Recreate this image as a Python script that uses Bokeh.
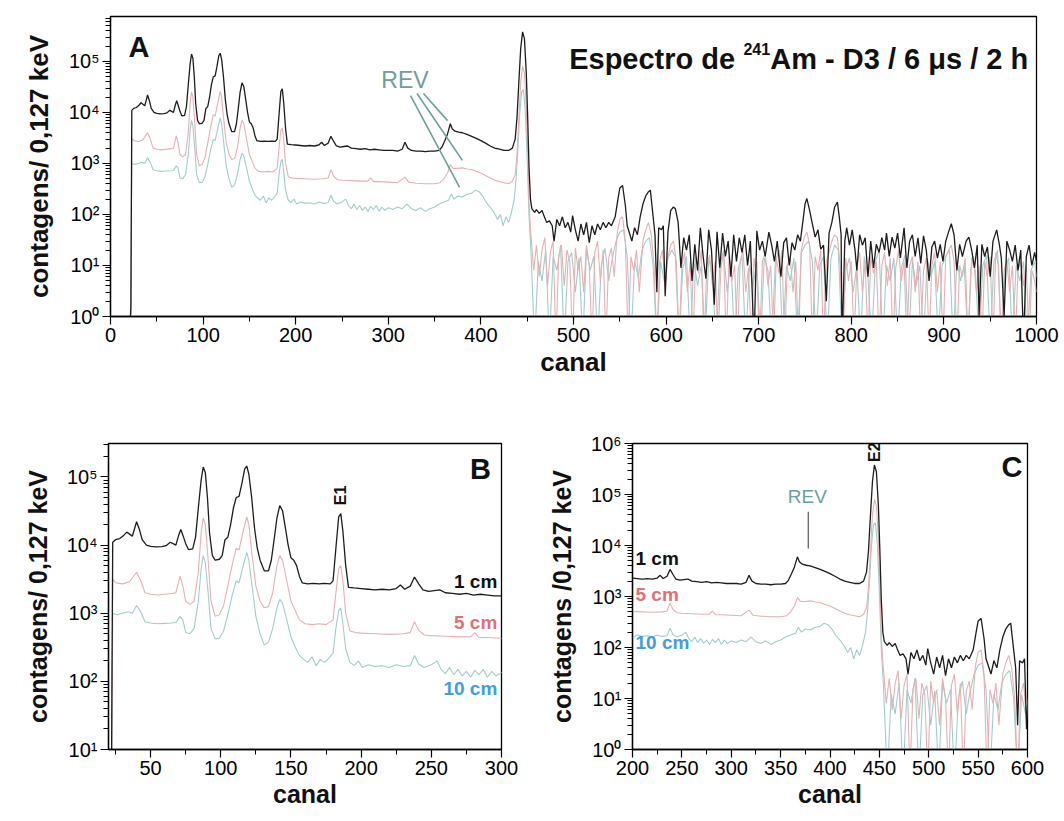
import math
from bokeh.plotting import figure
from bokeh.layouts import column, row
from bokeh.models import Range1d, FixedTicker, CustomJSTickFormatter, Label
from bokeh.embed import file_html
from bokeh.resources import INLINE

FONT = "Liberation Sans"

# ---------------- data: (canal, contagens) ----------------
# values of 0.3 stand for empty channels (drawn below the axis)
SPEC_1CM = [
    (20, 0.3), (22, 1.5), (23, 11000), (25, 12000), (28, 12500), (31, 14000), (33, 15500), (35, 14500),
    (37, 13500), (40, 22000), (42, 17000), (44, 12000), (47, 10000), (50, 9600), (54, 9400), (58, 9500),
    (61, 9800), (64, 11000), (66, 10500), (68, 10000), (70, 14000), (71.5, 17000), (73, 14000), (75, 10500),
    (77, 8600), (80, 8800), (82, 13000), (84, 35000), (86, 90000), (87.5, 140000), (89, 115000), (90.5, 50000),
    (92, 15000), (94, 7000), (96, 6000), (99, 6200), (101, 7000), (103, 12000), (105, 13000), (107, 20000),
    (109, 35000), (111, 50000), (113, 52000), (115, 80000), (117, 130000), (118.5, 145000), (120, 110000),
    (122, 50000), (124, 18000), (126, 9000), (128, 6000), (131, 4200), (134, 4200), (136, 6000), (138, 12000),
    (140, 25000), (142, 38000), (144, 32000), (146, 18000), (148, 10000), (150, 6500), (152, 6000), (154, 5000),
    (156, 3500), (158, 2800), (162, 2700), (166, 2750), (170, 2700), (174, 2750), (178, 2700), (180, 3000),
    (182, 9000), (184, 26000), (185.5, 29000), (187, 16000), (189, 5000), (191, 2400), (195, 2350), (200, 2300),
    (205, 2250), (210, 2200), (215, 2250), (220, 2200), (225, 2300), (228, 2600), (231, 2250), (235, 2500),
    (238, 3400), (241, 2700), (244, 2200), (248, 2100), (252, 2150), (256, 2200), (260, 2000), (265, 1950),
    (270, 1900), (275, 1950), (280, 1850), (285, 1900), (290, 1850), (295, 1800), (300, 1800), (305, 1800),
    (310, 1750), (315, 1900), (318, 2600), (321, 2000), (325, 1800), (330, 1750), (335, 1750), (340, 1700),
    (345, 1750), (350, 1750), (355, 1800), (358, 2100), (361, 2800), (364, 3800), (367, 6000), (369, 4800),
    (372, 4300), (376, 4100), (380, 4000), (385, 3700), (390, 3400), (395, 3100), (400, 2800), (405, 2500),
    (410, 2200), (415, 2000), (420, 1900), (425, 1800), (430, 1800), (434, 2000), (437, 3000), (439, 8000),
    (441, 40000), (443, 180000), (445, 380000), (447, 280000), (449, 60000), (450.5, 8000), (452, 800),
    (453.5, 200), (455, 130), (458, 110), (460, 125), (463, 105), (466, 120), (468, 95), (471, 70), (474, 75),
    (477, 60), (479, 30), (482, 80), (485, 60), (488, 90), (491, 55), (494, 70), (497, 45), (499, 95), (502, 50),
    (505, 30), (508, 65), (511, 40), (514, 70), (517, 28), (520, 60), (523, 40), (526, 65), (529, 50), (532, 70),
    (535, 55), (538, 70), (541, 60), (545, 90), (548, 200), (550, 330), (553, 370), (556, 150), (558, 60),
    (561, 40), (563, 30), (566, 55), (569, 40), (572, 90), (575, 160), (578, 230), (581, 280), (583, 300),
    (586, 90), (588, 40), (590, 3), (592, 55), (595, 50), (597, 60), (599, 2.5), (602, 45), (605, 120),
    (608, 140), (610, 130), (613, 70), (616, 9), (619, 35), (622, 20), (625, 40), (628, 5), (631, 26), (634, 8),
    (637, 55), (640, 15), (643, 5.5), (646, 50), (649, 20), (652, 1.7), (655, 46), (658, 9), (661, 43), (664, 15),
    (667, 30), (670, 6), (673, 40), (676, 12), (679, 35), (682, 18), (685, 40), (688, 10), (691, 30), (695, 0.3),
    (698, 48), (701, 20), (704, 30), (707, 15), (711, 45), (714, 25), (717, 12), (720, 30), (724, 6), (727, 28),
    (730, 35), (733, 10), (736, 28), (739, 20), (742, 40), (745, 30), (748, 80), (750, 160), (752, 205),
    (755, 120), (758, 65), (761, 36), (764, 50), (767, 21), (770, 25), (773, 2), (776, 43), (779, 70), (782, 140),
    (785, 175), (787, 90), (789, 40), (790, 0.3), (793, 30), (795, 55), (798, 25), (801, 50), (804, 20), (806, 8),
    (809, 40), (812, 25), (815, 35), (818, 6), (821, 30), (824, 9), (827, 26), (830, 18), (833, 35), (836, 20),
    (838, 43), (841, 15), (844, 36), (847, 22), (850, 43), (853, 14), (857, 55), (860, 9), (863, 30), (866, 40),
    (869, 15), (872, 35), (875, 11), (878, 38), (881, 20), (884, 5), (887, 23), (890, 30), (893, 14), (896, 26),
    (899, 12), (902, 30), (905, 45), (908, 66), (911, 40), (914, 8), (917, 26), (920, 15), (924, 30), (927, 36),
    (930, 20), (933, 9), (936, 25), (938, 1), (941, 26), (944, 15), (947, 23), (950, 6), (953, 30), (957, 50),
    (960, 25), (962, 14), (965, 1), (968, 30), (971, 20), (974, 12), (977, 25), (980, 8), (983, 20), (986, 0.3),
    (989, 15), (992, 25), (995, 10), (998, 18), (1000, 12),
]

SPEC_5CM = [
    (20, 0.3), (22, 1.0), (23, 3200), (25, 2800), (30, 2700), (35, 2900), (40, 4000), (43, 3000), (46, 2000),
    (50, 1900), (55, 1850), (60, 1900), (65, 1950), (68, 2000), (71, 3500), (73, 2500), (75, 1500), (78, 1350),
    (81, 1500), (84, 4000), (86, 15000), (87.5, 25000), (89, 20000), (91, 6000), (93, 1500), (96, 900), (99, 950),
    (102, 1300), (105, 2500), (108, 5000), (111, 9000), (113, 8500), (116, 16000), (118.5, 26000), (120, 20000),
    (122, 8000), (125, 2500), (128, 1500), (131, 1200), (134, 1250), (137, 2000), (140, 5000), (142, 7000),
    (144, 6000), (147, 3000), (150, 1500), (153, 1100), (156, 800), (160, 700), (165, 680), (170, 700), (175, 680),
    (180, 800), (182, 2000), (184, 4500), (185.5, 5000), (187, 3000), (189, 1000), (192, 550), (196, 520),
    (200, 510), (210, 500), (220, 490), (230, 500), (235, 520), (238, 750), (241, 560), (245, 480), (250, 470),
    (260, 460), (270, 450), (278, 450), (281, 520), (284, 440), (290, 440), (300, 430), (310, 420), (318, 540),
    (322, 430), (330, 410), (340, 400), (350, 400), (356, 420), (360, 500), (364, 650), (367, 950), (370, 800),
    (375, 800), (380, 820), (385, 780), (390, 760), (395, 700), (400, 650), (405, 580), (410, 520), (415, 470),
    (420, 440), (425, 420), (430, 400), (434, 450), (437, 600), (439, 1500), (441, 8000), (443, 40000),
    (445, 80000), (447, 60000), (449, 13000), (450.5, 1500), (452, 150), (454, 40), (457, 8), (460, 25),
    (463, 6), (466, 20), (469, 35), (472, 4), (475, 18), (478, 30), (481, 0.3), (484, 15), (487, 25), (490, 4),
    (493, 20), (496, 12), (499, 0.3), (502, 22), (505, 8), (508, 15), (511, 3), (514, 25), (517, 10), (520, 0.3),
    (523, 18), (526, 30), (529, 5), (532, 20), (535, 0.3), (538, 14), (541, 22), (544, 6), (547, 40), (550, 80),
    (553, 90), (556, 30), (559, 0.3), (562, 15), (565, 8), (568, 20), (571, 3), (575, 30), (578, 50), (581, 70),
    (584, 40), (587, 10), (590, 0.3), (593, 12), (596, 20), (599, 4), (602, 15), (605, 25), (608, 30), (611, 12),
    (614, 0.3), (617, 10), (620, 18), (623, 3), (626, 12), (629, 0.3), (632, 15), (635, 7), (638, 20), (641, 0.3),
    (644, 10), (647, 16), (650, 4), (653, 12), (656, 0.3), (659, 8), (662, 20), (665, 0.3), (668, 15), (671, 5),
    (674, 10), (677, 0.3), (680, 12), (683, 20), (686, 3), (689, 9), (692, 0.3), (695, 14), (698, 6), (701, 0.3),
    (704, 12), (707, 18), (710, 4), (713, 10), (716, 0.3), (719, 14), (722, 7), (725, 20), (728, 0.3), (731, 10),
    (734, 15), (737, 3), (740, 12), (743, 0.3), (746, 20), (749, 35), (752, 45), (755, 25), (758, 0.3), (761, 15),
    (764, 8), (767, 20), (770, 0.3), (773, 12), (776, 18), (779, 30), (782, 40), (785, 35), (788, 10), (791, 0.3),
    (794, 14), (797, 5), (800, 12), (803, 0.3), (806, 10), (809, 18), (812, 3), (815, 12), (818, 0.3), (821, 15),
    (824, 7), (827, 12), (830, 0.3), (833, 10), (836, 18), (839, 4), (842, 14), (845, 0.3), (848, 9), (851, 20),
    (854, 5), (857, 12), (860, 0.3), (863, 10), (866, 15), (869, 3), (872, 12), (875, 0.3), (878, 8), (881, 14),
    (884, 0.3), (887, 10), (890, 18), (893, 3), (896, 12), (899, 0.3), (902, 15), (905, 20), (908, 25), (911, 12),
    (914, 0.3), (917, 10), (920, 6), (923, 14), (926, 0.3), (929, 8), (932, 15), (935, 3), (938, 10), (941, 0.3),
    (944, 12), (947, 6), (950, 15), (953, 0.3), (956, 18), (959, 10), (962, 0.3), (965, 8), (968, 12), (971, 3),
    (974, 10), (977, 0.3), (980, 8), (983, 12), (986, 4), (989, 10), (992, 0.3), (995, 8), (998, 5), (1000, 3),
]

SPEC_10CM = [
    (20, 0.3), (22, 0.8), (23, 1000), (26, 950), (30, 1000), (34, 1050), (37, 1000), (40, 1300), (43, 1050),
    (46, 750), (50, 720), (55, 700), (60, 710), (65, 720), (68, 730), (71, 900), (73, 800), (75, 520), (78, 500),
    (81, 600), (84, 1500), (86, 4500), (87.5, 7000), (89, 5500), (91, 2000), (93, 600), (96, 420), (99, 430),
    (102, 550), (105, 950), (108, 1800), (111, 3000), (113, 2800), (116, 5000), (118.5, 7800), (120, 6000),
    (122, 2800), (125, 900), (128, 500), (131, 340), (134, 380), (137, 600), (140, 1200), (142, 1600), (144, 1400),
    (147, 800), (150, 450), (153, 320), (156, 240), (159, 210), (162, 190), (165, 230), (168, 170), (171, 210),
    (174, 190), (177, 220), (180, 260), (182, 600), (184, 1100), (185.5, 1200), (187, 700), (189, 300), (192, 190),
    (195, 170), (198, 200), (201, 160), (205, 175), (210, 165), (215, 170), (220, 160), (225, 175), (230, 165),
    (235, 170), (238, 240), (241, 180), (245, 160), (250, 175), (254, 200), (257, 150), (260, 130), (263, 160),
    (266, 125), (269, 150), (272, 120), (275, 140), (278, 115), (281, 145), (284, 125), (287, 150), (290, 115),
    (293, 140), (296, 120), (300, 135), (305, 125), (310, 140), (315, 130), (320, 160), (325, 130), (330, 120),
    (335, 135), (340, 115), (345, 130), (350, 140), (355, 160), (360, 175), (365, 190), (368, 250), (371, 200),
    (375, 230), (380, 220), (385, 250), (390, 260), (394, 300), (398, 280), (402, 230), (406, 170), (410, 140),
    (414, 110), (418, 80), (421, 100), (424, 60), (427, 90), (430, 70), (433, 110), (436, 200), (438, 500),
    (440, 2000), (442, 10000), (444, 25000), (446, 28000), (448, 10000), (450, 1200), (452, 90), (454, 20),
    (458, 0.3), (462, 12), (466, 5), (470, 20), (474, 0.3), (478, 15), (482, 8), (486, 25), (490, 0.3), (494, 12),
    (498, 18), (502, 3), (506, 14), (510, 0.3), (514, 20), (518, 8), (522, 15), (526, 0.3), (530, 10), (534, 22),
    (538, 5), (542, 14), (546, 30), (550, 45), (554, 50), (558, 15), (562, 0.3), (566, 12), (570, 6), (574, 20),
    (578, 30), (582, 35), (586, 10), (590, 0.3), (594, 12), (598, 5), (602, 14), (606, 20), (610, 15), (614, 0.3),
    (618, 9), (622, 15), (626, 0.3), (630, 12), (634, 4), (638, 10), (642, 0.3), (646, 14), (650, 6), (654, 0.3),
    (658, 10), (662, 18), (666, 3), (670, 12), (674, 0.3), (678, 9), (682, 15), (686, 0.3), (690, 10), (694, 4),
    (698, 12), (702, 0.3), (706, 14), (710, 8), (714, 0.3), (718, 12), (722, 20), (726, 0.3), (730, 10), (734, 5),
    (738, 14), (742, 0.3), (746, 18), (750, 25), (754, 30), (758, 12), (762, 0.3), (766, 10), (770, 15), (774, 0.3),
    (778, 14), (782, 25), (786, 20), (790, 0.3), (794, 8), (798, 14), (802, 3), (806, 10), (810, 0.3), (814, 15),
    (818, 6), (822, 0.3), (826, 12), (830, 20), (834, 0.3), (838, 10), (842, 5), (846, 14), (850, 0.3), (854, 9),
    (858, 16), (862, 0.3), (866, 12), (870, 4), (874, 10), (878, 0.3), (882, 14), (886, 6), (890, 12), (894, 0.3),
    (898, 10), (902, 15), (906, 20), (910, 0.3), (914, 12), (918, 5), (922, 10), (926, 0.3), (930, 14), (934, 8),
    (938, 0.3), (942, 10), (946, 16), (950, 0.3), (954, 12), (958, 20), (962, 0.3), (966, 9), (970, 14), (974, 0.3),
    (978, 10), (982, 5), (986, 12), (990, 0.3), (994, 8), (998, 12), (1000, 6),
]

SERIES = ["1 cm", "5 cm", "10 cm"]
LINE_COLORS = {"1 cm": "#1c1c1c", "5 cm": "#e6b0b4", "10 cm": "#a0cdcb"}
TEXT_COLORS = {"1 cm": "#111111", "5 cm": "#e06f78", "10 cm": "#3f9edb"}
DATA = {"1 cm": SPEC_1CM, "5 cm": SPEC_5CM, "10 cm": SPEC_10CM}

A_XTICKS = [0, 100, 200, 300, 400, 500, 600, 700, 800, 900, 1000]
A_XMINOR = [50, 150, 250, 350, 450, 550, 650, 750, 850, 950]
B_XTICKS = [50, 100, 150, 200, 250, 300]
B_XMINOR = [25, 75, 125, 175, 225, 275]
C_XTICKS = [200, 250, 300, 350, 400, 450, 500, 550, 600]
C_XMINOR = [225, 275, 325, 375, 425, 475, 525, 575]
Y_MAJOR = [1, 10, 100, 1e3, 1e4, 1e5, 1e6]
Y_MINOR = [m * 10 ** k for k in range(0, 6) for m in range(2, 10)]

SUP_JS = """
const sup = ['\u2070','\u00b9','\u00b2','\u00b3','\u2074','\u2075','\u2076','\u2077','\u2078','\u2079'];
const e = Math.round(Math.log10(tick));
return '10' + sup[e];
"""


def panel(width, height, xr, yr, borders, xticks, xminor, ylabel, lab_size):
    p = figure(width=width, height=height, x_range=Range1d(*xr), y_range=Range1d(*yr),
               y_axis_type="log", output_backend="svg", toolbar_location=None,
               min_border_left=borders[0], min_border_right=borders[1],
               min_border_top=borders[2], min_border_bottom=borders[3])
    p.grid.visible = False
    p.background_fill_color = "white"
    p.border_fill_color = "white"
    p.outline_line_color = "black"
    p.outline_line_width = 1.3
    p.xaxis.ticker = FixedTicker(ticks=xticks, minor_ticks=xminor)
    p.yaxis.ticker = FixedTicker(ticks=Y_MAJOR, minor_ticks=Y_MINOR)
    p.yaxis.formatter = CustomJSTickFormatter(code=SUP_JS)
    p.xaxis.axis_label = "canal"
    p.yaxis.axis_label = ylabel
    for ax in (p.xaxis, p.yaxis):
        ax.axis_line_color = "black"
        ax.axis_line_width = 1.3
        ax.major_tick_line_color = "black"
        ax.major_tick_line_width = 1.2
        ax.minor_tick_line_color = "black"
        ax.minor_tick_line_width = 1
        ax.major_tick_out = 8
        ax.major_tick_in = 0
        ax.minor_tick_out = 5
        ax.minor_tick_in = 0
        ax.major_label_text_font = FONT
        ax.major_label_text_font_size = "20px"
        ax.major_label_text_color = "black"
        ax.axis_label_text_font = FONT
        ax.axis_label_text_font_style = "bold"
        ax.axis_label_text_font_size = lab_size
        ax.axis_label_text_color = "#111111"
    p.xaxis.major_label_standoff = 3
    p.xaxis.axis_label_standoff = 2
    p.yaxis.major_label_standoff = 3
    p.yaxis.axis_label_standoff = 12
    for name in ["10 cm", "5 cm", "1 cm"]:
        xs = [c for c, v in DATA[name]]
        ys = [v for c, v in DATA[name]]
        p.line(xs, ys, line_color=LINE_COLORS[name], line_width=1.3 if name == "1 cm" else 1.1)
    return p


def lab(p, x, y, text, size, color="#111111", bold=True, align="left", base="middle", angle=0.0):
    p.add_layout(Label(x=x, y=y, text=text, text_font=FONT, text_font_size=size,
                       text_font_style="bold" if bold else "normal", text_color=color,
                       text_align=align, text_baseline=base, angle=angle))


# ---------------- panel A ----------------
pA = panel(1064, 386, (0, 1000), (1, 7.6e5), (110, 28, 16, 70), A_XTICKS, A_XMINOR,
           "contagens/ 0,127 keV", "26px")
lab(pA, 19.5, 10 ** 5.29, "A", "29px")
lab(pA, 991, 10 ** 5.04, "Am - D3 / 6 \u03bcs / 2 h", "29px", align="right", base="alphabetic")
pA.add_layout(Label(x=991, y=10 ** 5.25, x_offset=-258, text="241", text_font=FONT,
                    text_font_size="16px", text_font_style="bold", text_color="#111111",
                    text_align="right", text_baseline="alphabetic"))
pA.add_layout(Label(x=991, y=10 ** 5.04, x_offset=-293, text="Espectro de", text_font=FONT,
                    text_font_size="29px", text_font_style="bold", text_color="#111111",
                    text_align="right", text_baseline="alphabetic"))
lab(pA, 318, 10 ** 4.63, "REV", "23px", color="#6e9e9c", bold=False, align="center")
REV_X0 = [324, 331, 338]
REV_Y0 = [10 ** 4.33, 10 ** 4.37, 10 ** 4.37]
REV_X1 = [377, 380, 364]
REV_Y1 = [10 ** 2.53, 10 ** 3.06, 10 ** 3.84]
pA.segment(REV_X0, REV_Y0, REV_X1, REV_Y1, line_color="#6e9e9c", line_width=1.6)

# ---------------- panel B ----------------
pB = panel(532, 435, (20, 300), (10, 3.1e5), (108, 31, 56, 72), B_XTICKS, B_XMINOR,
           "contagens/ 0,127 keV", "25px")
lab(pB, 292.5, 10 ** 5.12, "B", "29px", align="right")
lab(pB, 185, 10 ** 4.73, "E1", "16px", align="center", angle=math.pi / 2)
lab(pB, 297, 10 ** 3.47, "1 cm", "19px", color=TEXT_COLORS["1 cm"], align="right")
lab(pB, 297, 10 ** 2.87, "5 cm", "19px", color=TEXT_COLORS["5 cm"], align="right")
lab(pB, 297, 10 ** 1.89, "10 cm", "19px", color=TEXT_COLORS["10 cm"], align="right")

# ---------------- panel C ----------------
pC = panel(532, 435, (200, 600), (1, 1e6), (100, 37, 57, 70), C_XTICKS, C_XMINOR,
           "contagens /0,127 keV", "25px")
lab(pC, 595, 10 ** 5.54, "C", "29px", align="right")
lab(pC, 445, 10 ** 5.83, "E2", "16px", align="center", angle=math.pi / 2)
lab(pC, 377, 10 ** 4.97, "REV", "19px", color="#6e9e9c", bold=False, align="center")
pC.segment([378], [10 ** 4.66], [378], [10 ** 3.94], line_color="#555555", line_width=1.2)
lab(pC, 203, 10 ** 3.74, "1 cm", "19px", color=TEXT_COLORS["1 cm"])
lab(pC, 203, 10 ** 3.04, "5 cm", "19px", color=TEXT_COLORS["5 cm"])
lab(pC, 203, 10 ** 2.10, "10 cm", "19px", color=TEXT_COLORS["10 cm"])

layout = column(pA, row(pB, pC))
open("out.html", "w").write(file_html(layout, INLINE))
